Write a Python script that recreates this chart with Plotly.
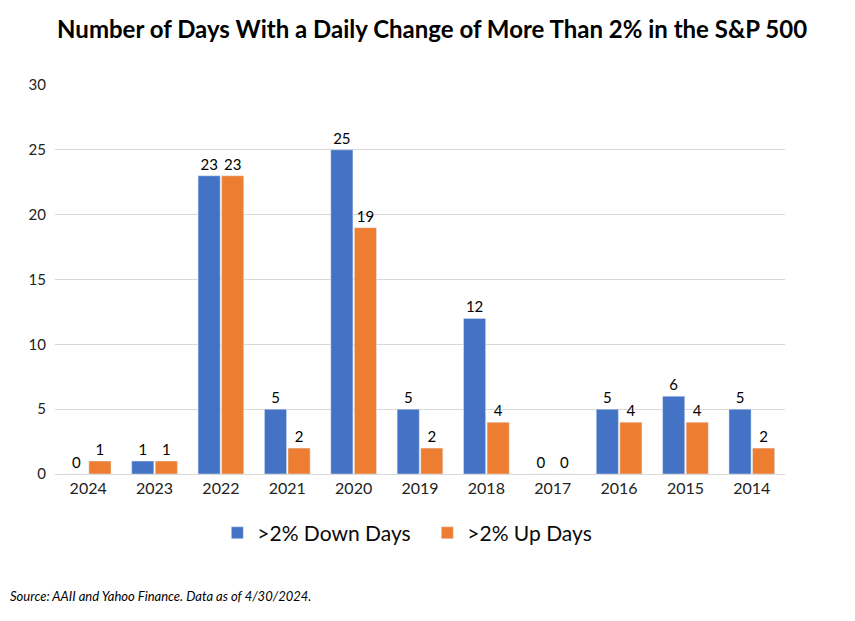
import plotly.graph_objects as go

years = ["2024", "2023", "2022", "2021", "2020", "2019", "2018", "2017", "2016", "2015", "2014"]
down_days = [0, 1, 23, 5, 25, 5, 12, 0, 5, 6, 5]
up_days = [1, 1, 23, 2, 19, 2, 4, 0, 4, 4, 2]

FONT = "Lato, Liberation Sans, sans-serif"

fig = go.Figure()
fig.add_trace(go.Bar(
    x=years, y=down_days, name=">2% Down Days",
    marker_color="#4472C4",
    text=down_days, textposition="outside", cliponaxis=False,
    textfont=dict(size=15, color="#000000"),
))
fig.add_trace(go.Bar(
    x=years, y=up_days, name=">2% Up Days",
    marker_color="#ED7D31",
    text=up_days, textposition="outside", cliponaxis=False,
    textfont=dict(size=15, color="#000000"),
))

fig.update_layout(
    width=855, height=621,
    paper_bgcolor="white", plot_bgcolor="white",
    font=dict(family=FONT, color="#000000"),
    barmode="group", bargap=0.29, bargroupgap=0.06,
    margin=dict(l=47, r=78, t=77, b=155, autoexpand=False),
    title=dict(
        text="<b>Number of Days With a Daily Change of More Than 2% in the S&P 500</b>",
        x=0.496, xanchor="center", y=0.965, yanchor="middle",
        font=dict(size=24, color="#000000", family=FONT),
    ),
    legend=dict(
        orientation="h", x=0.51, xanchor="center", y=-0.152, yanchor="middle",
        font=dict(size=21, color="#0a0a0a"),
        itemwidth=30, traceorder="normal", entrywidth=165,
    ),
    yaxis=dict(
        range=[0, 30], dtick=5, showgrid=True, gridcolor="#D9D9D9", gridwidth=1,
        zeroline=False, showline=False, automargin=False,
        tickfont=dict(size=15, color="#222222"), ticks="", ticklabelstandoff=8,
    ),
    xaxis=dict(
        showline=True, linecolor="#D9D9D9", linewidth=1, automargin=False,
        tickfont=dict(size=16, color="#222222"), ticks="",
    ),
    annotations=[dict(
        text="<i>Source: AAII and Yahoo Finance. Data as of 4/30/2024.</i>",
        xref="paper", yref="paper", x=-0.0644, y=-0.314,
        xanchor="left", yanchor="middle", showarrow=False,
        font=dict(size=13, color="#000000"),
    )],
)

fig.write_html("out.html")
